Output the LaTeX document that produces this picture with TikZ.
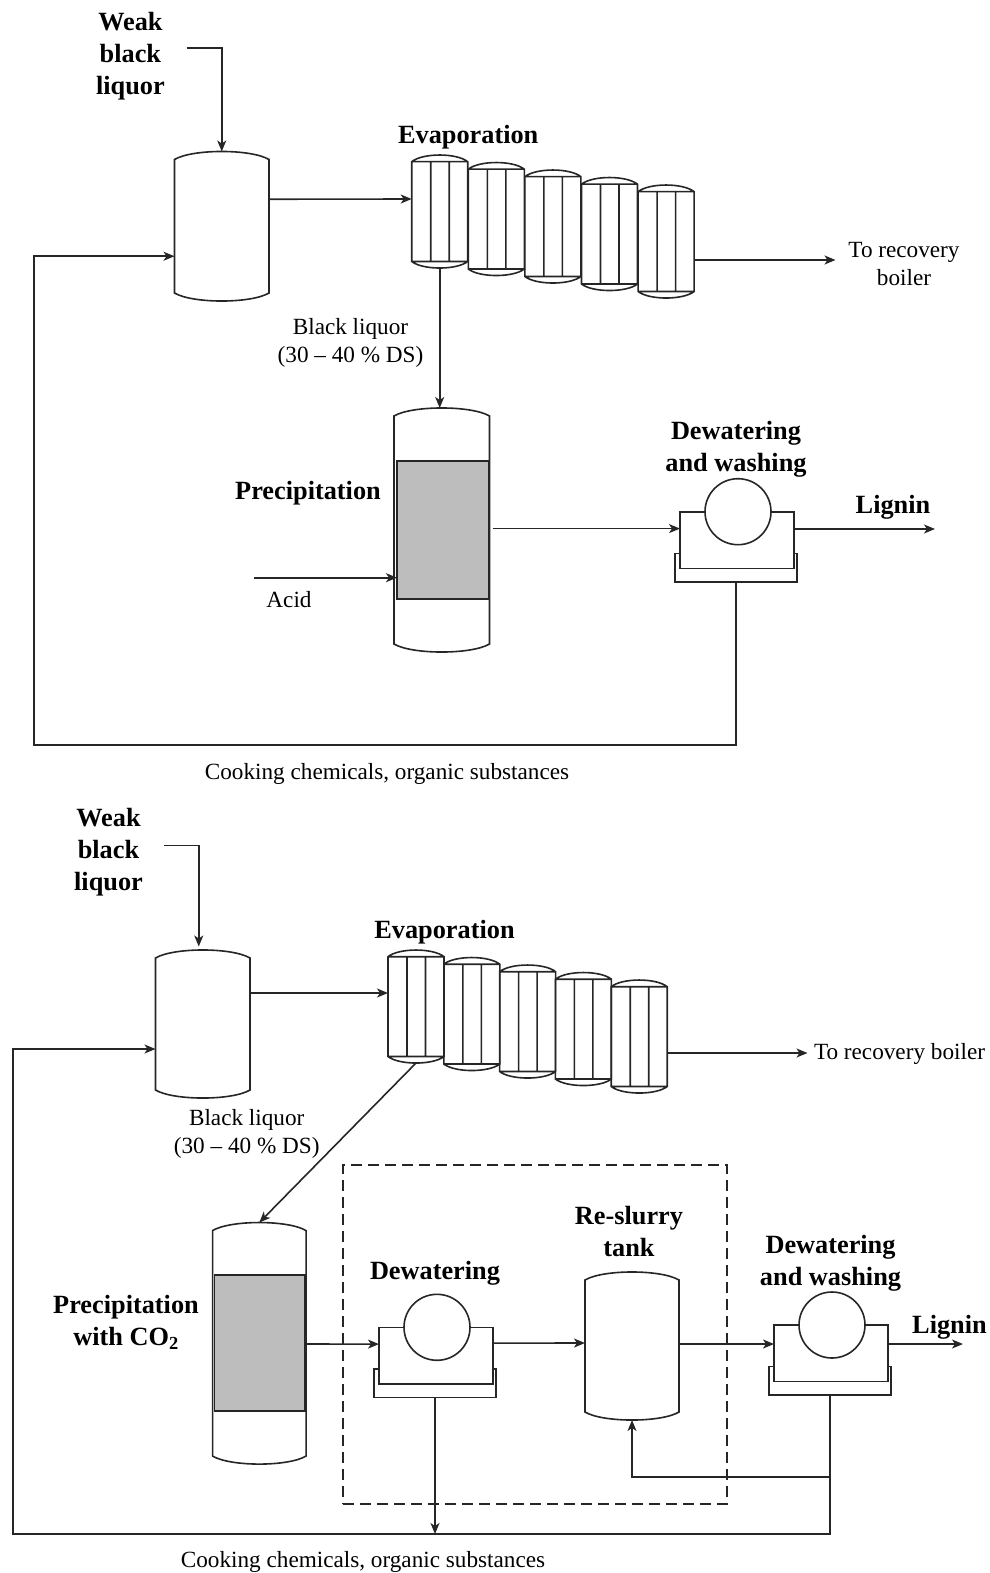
\documentclass[tikz,border=0pt]{standalone}
\usepackage{fontspec}
\setmainfont{Liberation Serif}
\usetikzlibrary{positioning,arrows.meta,calc}
\tikzset{
line/.style={draw=black!85,line width=1.6pt},
flow/.style={line,-{Stealth[length=11pt,width=9pt,inset=3pt]}},
shell node/.style={inner sep=0,outer sep=0,draw=none},
belt node/.style={rectangle,line,fill=white,inner sep=0,outer sep=0},
drum node/.style={circle,line,fill=white,inner sep=0,outer sep=0,minimum size=66pt},
gray node/.style={rectangle,line,fill=black!26,inner sep=0,outer sep=0},
bold label/.style={font=\fontsize{26.3}{32}\selectfont\bfseries,align=center,inner sep=0},
thin label/.style={font=\fontsize{23.2}{28}\selectfont,align=center,inner sep=0}}
\newcommand{\tank}[5]{
\node[shell node,minimum width=#4pt,minimum height=#5pt] (#1) at (#2,#3) {};
\draw[line] ($(#1.north west)+(0,8)$) .. controls ($(#1.north west)+(18,-2.7)$) and ($(#1.north east)+(-18,-2.7)$) .. ($(#1.north east)+(0,8)$)
-- ($(#1.south east)+(0,-8)$) .. controls ($(#1.south east)+(-18,2.7)$) and ($(#1.south west)+(18,2.7)$) .. ($(#1.south west)+(0,-8)$) -- cycle;
}
\newcommand{\evap}[3]{
\node[shell node,minimum width=56pt,minimum height=113pt] (#1) at ({#2+28},{#3+56.5}) {};
\draw[line] ($(#1.north west)+(0,6.7)$) .. controls ($(#1.north west)+(11,-2.2)$) and ($(#1.north east)+(-11,-2.2)$) .. ($(#1.north east)+(0,6.7)$)
-- ($(#1.south east)+(0,-6.5)$) .. controls ($(#1.south east)+(-11,2.2)$) and ($(#1.south west)+(11,2.2)$) .. ($(#1.south west)+(0,-6.5)$) -- cycle
($(#1.north west)+(0,6.7)$) -- ($(#1.north east)+(0,6.7)$)
($(#1.south west)+(0,-6.5)$) -- ($(#1.south east)+(0,-6.5)$)
($(#1.north west)+(19,6.7)$) -- ($(#1.south west)+(19,-6.5)$)
($(#1.north west)+(37.5,6.7)$) -- ($(#1.south west)+(37.5,-6.5)$);
}
\newcommand{\filter}[3]{
\node[belt node,minimum width=122pt,minimum height=28.4pt] (#1t) at ({#2-1},{#3+55.8}) {};
\node[belt node,minimum width=114pt,minimum height=56.6pt] (#1) at (#2,{#3+28.3}) {};
\node[drum node] (#1c) at ({#2+1},#3) {};
}
\begin{document}
\begin{tikzpicture}[x=1pt,y=-1pt]
\useasboundingbox (0,0) rectangle (989,1573);

\tank{tank1}{221.75}{226.25}{94.5}{149.5}
\foreach \n in {0,...,4} {\evap{a\n}{411.7+56.6*\n}{155+7.5*\n}}
\tank{col1}{441.75}{530}{95.5}{244}
\node[gray node,minimum width=91.5pt,minimum height=138pt] (gray1) at (442.75,530) {};
\filter{f1}{737}{511.7}

\node[bold label] (weak1) at (130.4,56.5) {Weak\\black\\liquor};
\node[bold label] (evlab1) [above=6pt of a0,xshift=28.5pt] {Evaporation};
\node[thin label] (boil1) at (904,264) {To recovery\\boiler};
\node[thin label] (black1) at (350.5,342.7) {Black liquor\\(30 -- 40 \% DS)};
\node[bold label] (prec1) at (308,493) {Precipitation};
\node[thin label] (acid) at (289,600) {Acid};
\node[bold label] (dew1) at (736,449) {Dewatering\\and washing};
\node[bold label] (lig1) at (893,507.5) {Lignin};
\node[thin label] (cook1) at (387,773.5) {Cooking chemicals, organic substances};

\coordinate (w1) at (186.5,48);
\coordinate (acid1) at (254,577.7);
\coordinate (out1) at (835.5,260);
\coordinate (lout1) at (935,529);
\coordinate (r1) at (34,745);

\draw[flow] (w1) -| (tank1.north);
\draw[flow] ([yshift=27pt]tank1.east) -- ([yshift=12.5pt]a0.west);
\draw[flow] (a0.south) -- (a0.south |- col1.north);
\draw[flow] ([yshift=-18.5pt]a4.east) -- (out1);
\draw[flow] (acid1) -- (acid1 -| gray1.west);
\draw[flow] ([xshift=3.5pt,yshift=1.4pt]col1.east) -- ([yshift=1.4pt]col1.east -| f1.west);
\draw[flow] ([yshift=11pt]f1.east) -- (lout1);
\draw[flow] (f1t.south) |- (r1) |- ([yshift=-30pt]tank1.west);

\tank{tank2}{202.75}{1024}{94.5}{148}
\foreach \n in {0,...,4} {\evap{b\n}{388+55.8*\n}{950+7.5*\n}}
\tank{col2}{259.3}{1343.3}{93.5}{241.5}
\node[gray node,minimum width=90.4pt,minimum height=136pt] (gray2) at (259.8,1343) {};
\filter{f2}{436}{1327.3}
\tank{slurry}{632}{1346}{94}{148}
\filter{f3}{831}{1325}
\node[shell node,line,dashed,dash pattern=on 11pt off 6pt,minimum width=384pt,minimum height=339pt] (dash) at (535,1334.5) {};

\node[bold label] (weak2) at (108.5,852) {Weak\\black\\liquor};
\node[bold label] (evlab2) [above=6pt of b0,xshift=28.5pt] {Evaporation};
\node[thin label] (boil2) at (899.5,1054) {To recovery boiler};
\node[thin label] (black2) at (246.7,1133.5) {Black liquor\\(30 -- 40 \% DS)};
\node[bold label] (prec2) at (126,1322) {Precipitation\\with CO\textsubscript{2}};
\node[bold label] (dew2) at (435,1273.5) {Dewatering};
\node[bold label] (res) at (629,1231) {Re-slurry\\tank};
\node[bold label] (dew3) at (830.5,1263) {Dewatering\\and washing};
\node[bold label] (lig2) at (949.5,1327) {Lignin};
\node[thin label] (cook2) at (363,1562) {Cooking chemicals, organic substances};

\coordinate (w2) at (163.5,845.5);
\coordinate (out2) at (807.5,1053);
\coordinate (lout2) at (963,1344);
\coordinate (r2) at (13,1534);
\coordinate (b2) at (830,1477);

\draw[flow] (w2) -| ([xshift=-4pt,yshift=3.5pt]tank2.north);
\draw[flow] ([yshift=31pt]tank2.east) -- ([yshift=13.5pt]b0.west);
\draw[flow] (b0.south) -- (col2.north);
\draw[flow] ([yshift=-16.5pt]b4.east) -- (out2);
\draw[flow] ([yshift=-0.7pt]col2.east -| gray2.east) -- ([yshift=11.5pt]f2.west);
\draw[flow] ([yshift=12.5pt]f2.east) -- ([yshift=3pt]slurry.west);
\draw[flow] ([yshift=2pt]slurry.east) -- ([yshift=9.3pt]f3.west);
\draw[flow] ([yshift=9.3pt]f3.east) -- (lout2);
\draw[flow] (f2t.south) -- (f2t.south |- r2);
\draw[flow] (f3t.south) |- (r2) |- ([yshift=-25pt]tank2.west);
\draw[flow] (b2) -| (slurry.south);
\end{tikzpicture}
\end{document}
